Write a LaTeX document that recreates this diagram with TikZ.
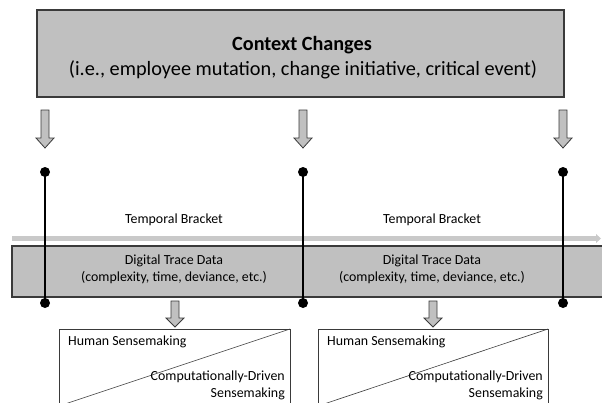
\documentclass[tikz,border=0pt]{standalone}
\usepackage{fontspec}
\setmainfont{Carlito}
\definecolor{boxgray}{HTML}{C0C0C0}
\definecolor{bargray}{HTML}{C9C9C9}
\definecolor{edgegray}{HTML}{3A3A3A}
\begin{document}
\begin{tikzpicture}[x=1pt,y=-1pt,
  panel/.style={draw=edgegray, line width=1.1pt, fill=boxgray},
  sensebox/.style={draw=edgegray, line width=0.8pt, fill=white},
  blockfill/.style={draw=edgegray, line width=0.8pt, fill=boxgray, line join=miter},
  pics/downarrow/.style 2 args={code={
    \draw[blockfill] (-4,0) -- (-4,#2) -- (-9,#2) -- (0,#1) -- (9,#2) -- (4,#2) -- (4,0) -- cycle;}},
  dot/.style={circle, fill=black, inner sep=0pt, minimum size=10pt},
  bracketline/.style={line width=2.8pt, black},
  label/.style={font=\fontsize{13.9}{16}\selectfont, inner sep=0pt},
  title/.style={font=\fontsize{20.3}{24}\selectfont, inner sep=0pt}]
\useasboundingbox (0,0) rectangle (602,402);
\clip (0,0) rectangle (602,402);

% context box
\draw[panel] (37,10) rectangle (564,97);
\node[title, font=\fontsize{20.2}{24}\selectfont\bfseries] (ctxtitle) at (302,45) {Context Changes};
\node[title] (ctxsub) at (303,70) {(i.e., employee mutation, change initiative, critical event)};

% arrows from the context box
\pic at (45,110) {downarrow={38}{28}};
\pic at (303,110) {downarrow={38}{28}};
\pic at (563,110) {downarrow={38}{28}};

% time line bar
\fill[bargray] (12,236) rectangle (597,241);
\fill[bargray] (596,234) -- (601,238.5) -- (596,243) -- cycle;

% digital trace data band
\draw[panel] (12,246) rectangle (612,297);
\node[label] (dt1a) at (174,261) {Digital Trace Data};
\node[label] (dt1b) at (174,278) {(complexity, time, deviance, etc.)};
\node[label] (dt2a) at (432,261) {Digital Trace Data};
\node[label] (dt2b) at (432,278) {(complexity, time, deviance, etc.)};

% temporal bracket labels
\node[label] (tb1) at (174,220) {Temporal Bracket};
\node[label] (tb2) at (432,220) {Temporal Bracket};

% bracket boundaries
\node[dot] (t1) at (45,172) {};
\node[dot] (t2) at (303,172) {};
\node[dot] (t3) at (563,172) {};
\node[dot] (b1) at (45,303) {};
\node[dot] (b2) at (303,303) {};
\node[dot] (b3) at (563,303) {};
\draw[bracketline] (t1.center) -- (b1.center);
\draw[bracketline] (t2.center) -- (b2.center);
\draw[bracketline] (t3.center) -- (b3.center);

% arrows to the sensemaking boxes
\pic at (175,301) {downarrow={26}{17}};
\pic at (433,301) {downarrow={26}{17}};

% sensemaking boxes
\draw[sensebox] (59,329) rectangle (290,406);
\draw[edgegray, line width=0.6pt] (59,406) -- (290,329);
\node[label, anchor=west] (hs1) at (68,342) {Human Sensemaking};
\node[label, anchor=east] (cd1) at (285,377) {Computationally-Driven};
\node[label, anchor=east] (sm1) at (285,394) {Sensemaking};

\draw[sensebox] (318,329) rectangle (548,406);
\draw[edgegray, line width=0.6pt] (318,406) -- (548,329);
\node[label, anchor=west] (hs2) at (327,342) {Human Sensemaking};
\node[label, anchor=east] (cd2) at (543,377) {Computationally-Driven};
\node[label, anchor=east] (sm2) at (543,394) {Sensemaking};
\end{tikzpicture}
\end{document}
